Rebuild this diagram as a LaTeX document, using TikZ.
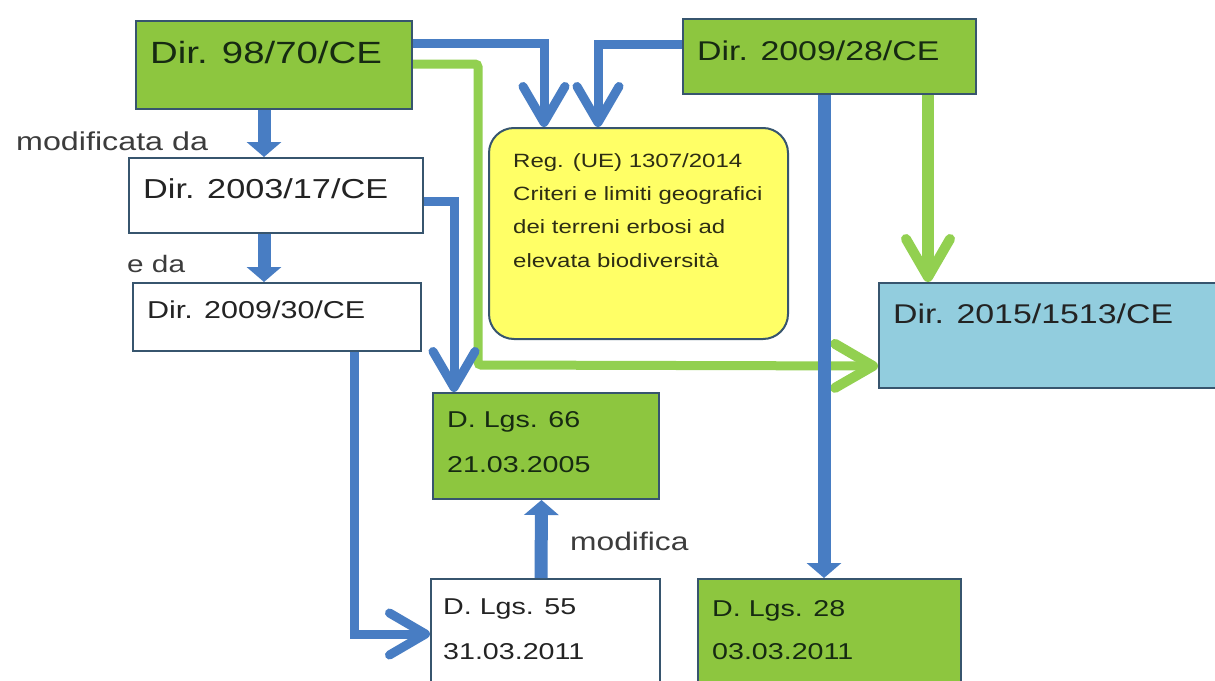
\documentclass[tikz,border=0pt]{standalone}
\usepackage{fontspec}
\setmainfont{Liberation Sans}[FakeStretch=1.25]
\usetikzlibrary{arrows.meta}
\definecolor{lblue}{RGB}{72,125,195}
\definecolor{lgreen}{RGB}{146,208,80}
\definecolor{bgreen}{RGB}{141,198,63}
\definecolor{ebox}{RGB}{146,205,222}
\definecolor{ybox}{RGB}{255,255,102}
\definecolor{bord}{RGB}{55,85,110}
\definecolor{txt}{RGB}{35,35,35}
\definecolor{gtxt}{RGB}{22,42,18}
\definecolor{ytxt}{RGB}{45,45,20}
\definecolor{lbl}{RGB}{60,60,60}
\begin{document}
\begin{tikzpicture}[x=1pt,y=-1pt,
  box/.style={draw=bord,line width=2pt,anchor=north west,inner sep=0pt},
  gbox/.style={box,fill=bgreen},
  wbox/.style={box,fill=white},
  txtnode/.style={inner sep=0pt,text=txt},
  gtxtnode/.style={inner sep=0pt,text=gtxt},
  bluechev/.style={draw=lblue,line width=9pt,-{Straight Barb[length=36pt,width=42pt,line width=9pt,round]}},
  greenchev/.style={draw=lgreen,line width=9pt,-{Straight Barb[length=38pt,width=44pt,line width=10pt,round]}},
  bluethick/.style={draw=lblue,line width=13pt,-{Triangle[length=15pt,width=34pt]}},
  lbltext/.style={inner sep=0pt,text=lbl,anchor=base west}
]
\useasboundingbox (0,0) rectangle (1215,680);
\fill[white] (0,0) rectangle (1215,680);

% boxes
\node[gbox,minimum width=276pt,minimum height=88pt] (A) at (135,20) {};
\node[wbox,minimum width=294pt,minimum height=75pt] (B) at (128,157) {};
\node[wbox,minimum width=288pt,minimum height=68pt] (C) at (132,282) {};
\node[box,fill=ybox,rounded corners=25pt,minimum width=299pt,minimum height=211pt] (Y) at (488,127) {};
\node[gbox,minimum width=293pt,minimum height=75pt] (D) at (682,18) {};
\node[box,fill=ebox,minimum width=347pt,minimum height=105pt] (E) at (878,282) {};
\node[gbox,minimum width=226pt,minimum height=106pt] (F) at (432,392) {};
\node[wbox,minimum width=229pt,minimum height=122pt] (G) at (430,578) {};
\node[gbox,minimum width=263pt,minimum height=122pt] (H) at (697,578) {};

% texts
\node[gtxtnode,anchor=base west,font=\fontsize{30.7}{36}\selectfont] (At) at (150,63) {Dir. 98/70/CE};
\node[txtnode,anchor=base west,font=\fontsize{27.4}{33}\selectfont] (Bt) at (143,198) {Dir. 2003/17/CE};
\node[txtnode,anchor=base west,font=\fontsize{24.4}{30}\selectfont] (Ct) at (147,318) {Dir. 2009/30/CE};
\node[gtxtnode,anchor=base west,font=\fontsize{27.1}{33}\selectfont] (Dt) at (697,60) {Dir. 2009/28/CE};
\node[txtnode,anchor=base west,font=\fontsize{27.1}{33}\selectfont] (Et) at (893,323) {Dir. 2015/1513/CE};
\node[inner sep=0pt,text=ytxt,anchor=north west,align=left,font=\fontsize{19.2}{33.3}\selectfont] (Yt) at (513,153)
  {Reg. (UE) 1307/2014\\Criteri e limiti geografici\\dei terreni erbosi ad\\elevata biodiversità};
\node[gtxtnode,anchor=north west,align=left,font=\fontsize{22.9}{45}\selectfont] (Ft) at (447,411.6) {D. Lgs. 66\\21.03.2005};
\node[txtnode,anchor=north west,align=left,font=\fontsize{22.9}{45}\selectfont] (Gt) at (443,598.6) {D. Lgs. 55\\31.03.2011};
\node[gtxtnode,anchor=north west,align=left,font=\fontsize{22.9}{43}\selectfont] (Ht) at (712,600.6) {D. Lgs. 28\\03.03.2011};

% labels
\node[lbltext,font=\fontsize{25.8}{30}\selectfont] (L1) at (16,150) {modificata da};
\node[lbltext,font=\fontsize{23.8}{28}\selectfont] (L2) at (127,272) {e da};
\node[lbltext,font=\fontsize{25.4}{30}\selectfont] (L3) at (570,550) {modifica};

% connectors
\coordinate (gturn) at (478,365);
\draw[greenchev,rounded corners=3pt] ([yshift=1pt]A.east) -| (gturn) -- ([yshift=-30.5pt]E.west);
\draw[greenchev,line width=12pt] ([xshift=98.5pt]D.south) -- ([xshift=98.5pt]D.south |- E.north);
\draw[bluechev] ([yshift=22pt]A.east) -| ([xshift=-94.5pt]Y.north);
\draw[bluechev] ([yshift=12.5pt]D.west) -| ([xshift=-40.5pt]Y.north);
\draw[bluechev] ([yshift=-5.5pt]B.east) -| ([xshift=-92pt]F.north);
\draw[bluechev] ([xshift=77pt]C.south) |- ([yshift=6pt]G.west);
\draw[bluethick] ([xshift=-4.5pt]G.north) -- ([xshift=-4.5pt]F.south);
\draw[bluethick] ([xshift=-5.5pt]D.south) -- ([xshift=-5.5pt]H.north);
\draw[bluethick] ([xshift=-10pt]A.south) -- ([xshift=-10pt]A.south |- B.north);
\draw[bluethick] ([xshift=-12pt]B.south) -- ([xshift=-12pt]B.south |- C.north);
\end{tikzpicture}
\end{document}
